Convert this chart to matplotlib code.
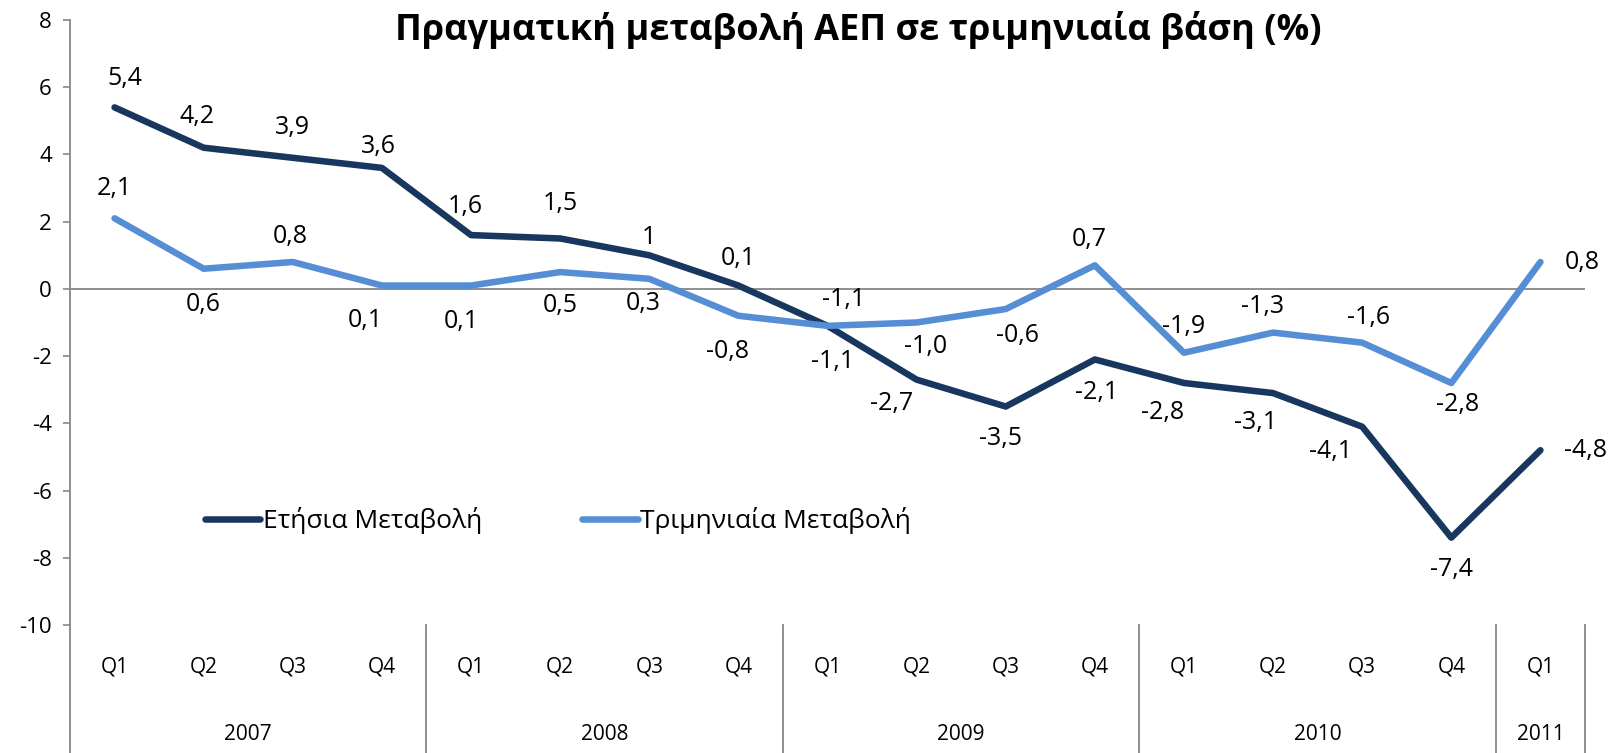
import matplotlib.pyplot as plt
import matplotlib.transforms as mtransforms

plt.rcParams['font.family'] = ['Open Sans', 'DejaVu Sans']
plt.rcParams['axes.unicode_minus'] = False

quarters = ['Q1', 'Q2', 'Q3', 'Q4'] * 4 + ['Q1']
years = ['2007', '2008', '2009', '2010', '2011']
year_len = [4, 4, 4, 4, 1]

annual = [5.4, 4.2, 3.9, 3.6, 1.6, 1.5, 1.0, 0.1, -1.1, -2.7, -3.5, -2.1, -2.8, -3.1, -4.1, -7.4, -4.8]
quarterly = [2.1, 0.6, 0.8, 0.1, 0.1, 0.5, 0.3, -0.8, -1.1, -1.0, -0.6, 0.7, -1.9, -1.3, -1.6, -2.8, 0.8]

annual_txt = ['5,4', '4,2', '3,9', '3,6', '1,6', '1,5', '1', '0,1', '-1,1', '-2,7', '-3,5', '-2,1',
              '-2,8', '-3,1', '-4,1', '-7,4', '-4,8']
quarterly_txt = ['2,1', '0,6', '0,8', '0,1', '0,1', '0,5', '0,3', '-0,8', '-1,1', '-1,0', '-0,6', '0,7',
                 '-1,9', '-1,3', '-1,6', '-2,8', '0,8']

# label offsets in pixels (dx, dy), dy positive = up
annual_off = [(10, 29), (-7, 31), (0, 30), (-3, 21), (-6, 29), (0, 35), (0, 18), (0, 27), (5, -36),
              (-25, -24), (-5, -32), (2, -33), (-21, -30), (-18, -29), (-32, -25), (0, -32), (45, 0)]
quarterly_off = [(0, 30), (0, -36), (-3, 25), (-17, -35), (-10, -36), (0, -33), (-6, -25), (-11, -36),
                 (16, 26), (9, -24), (12, -26), (-6, 26), (0, 26), (-11, 26), (6, 25), (6, -22), (42, 0)]

dark = '#17375E'
light = '#558ED5'
grey = '#868686'

fig = plt.figure(figsize=(16.19, 7.53), dpi=100)
ax = fig.add_axes([70 / 1619, 128 / 753, 1515 / 1619, 605 / 753])

x = list(range(len(annual)))
ax.plot(x, annual, color=dark, lw=4.7, solid_capstyle='round', label='Ετήσια Μεταβολή', zorder=3)
ax.plot(x, quarterly, color=light, lw=4.7, solid_capstyle='round', label='Τριμηνιαία Μεταβολή', zorder=3)

for xi, v, t, (dx, dy) in zip(x, annual, annual_txt, annual_off):
    ax.annotate(t, (xi, v), xytext=(dx, dy), textcoords='offset pixels',
                ha='center', va='center', fontsize=18)
for xi, v, t, (dx, dy) in zip(x, quarterly, quarterly_txt, quarterly_off):
    ax.annotate(t, (xi, v), xytext=(dx, dy), textcoords='offset pixels',
                ha='center', va='center', fontsize=18)

ax.set_xlim(-0.5, len(x) - 0.5)
ax.set_ylim(-10, 8)
ax.set_yticks(range(-10, 9, 2))
ax.set_xticks([])
ax.tick_params(axis='y', direction='out', length=5, width=1.2, color=grey, labelsize=16, pad=8)
for s in ['top', 'right', 'bottom']:
    ax.spines[s].set_visible(False)
ax.spines['left'].set_color(grey)
ax.spines['left'].set_linewidth(1.3)
ax.axhline(0, color=grey, lw=1.3, zorder=1)

# two-level category axis
trans = mtransforms.blended_transform_factory(ax.transData, ax.transAxes)
bottom = -128 / 605
edges = [-0.5]
for n in year_len:
    edges.append(edges[-1] + n)
for e in edges:
    ax.plot([e, e], [0, bottom], transform=trans, color=grey, lw=1.3, clip_on=False)
for xi, q in zip(x, quarters):
    ax.text(xi, -42 / 605, q, transform=trans, ha='center', va='center', fontsize=15)
for i, y in enumerate(years):
    ax.text((edges[i] + edges[i + 1]) / 2, -110 / 605, y, transform=trans,
            ha='center', va='center', fontsize=15)

ax.legend(loc='center left', bbox_to_anchor=(0.089, 0.172), ncol=2, frameon=False, fontsize=19,
          handlelength=2.1, handletextpad=0.1, columnspacing=3.8, borderpad=0, borderaxespad=0)

fig.text(858 / 1619, 1 - 30 / 753, 'Πραγματική μεταβολή ΑΕΠ σε τριμηνιαία βάση (%)',
         ha='center', va='center', fontsize=26, fontweight='bold')

fig.savefig('out.png', dpi=100)
